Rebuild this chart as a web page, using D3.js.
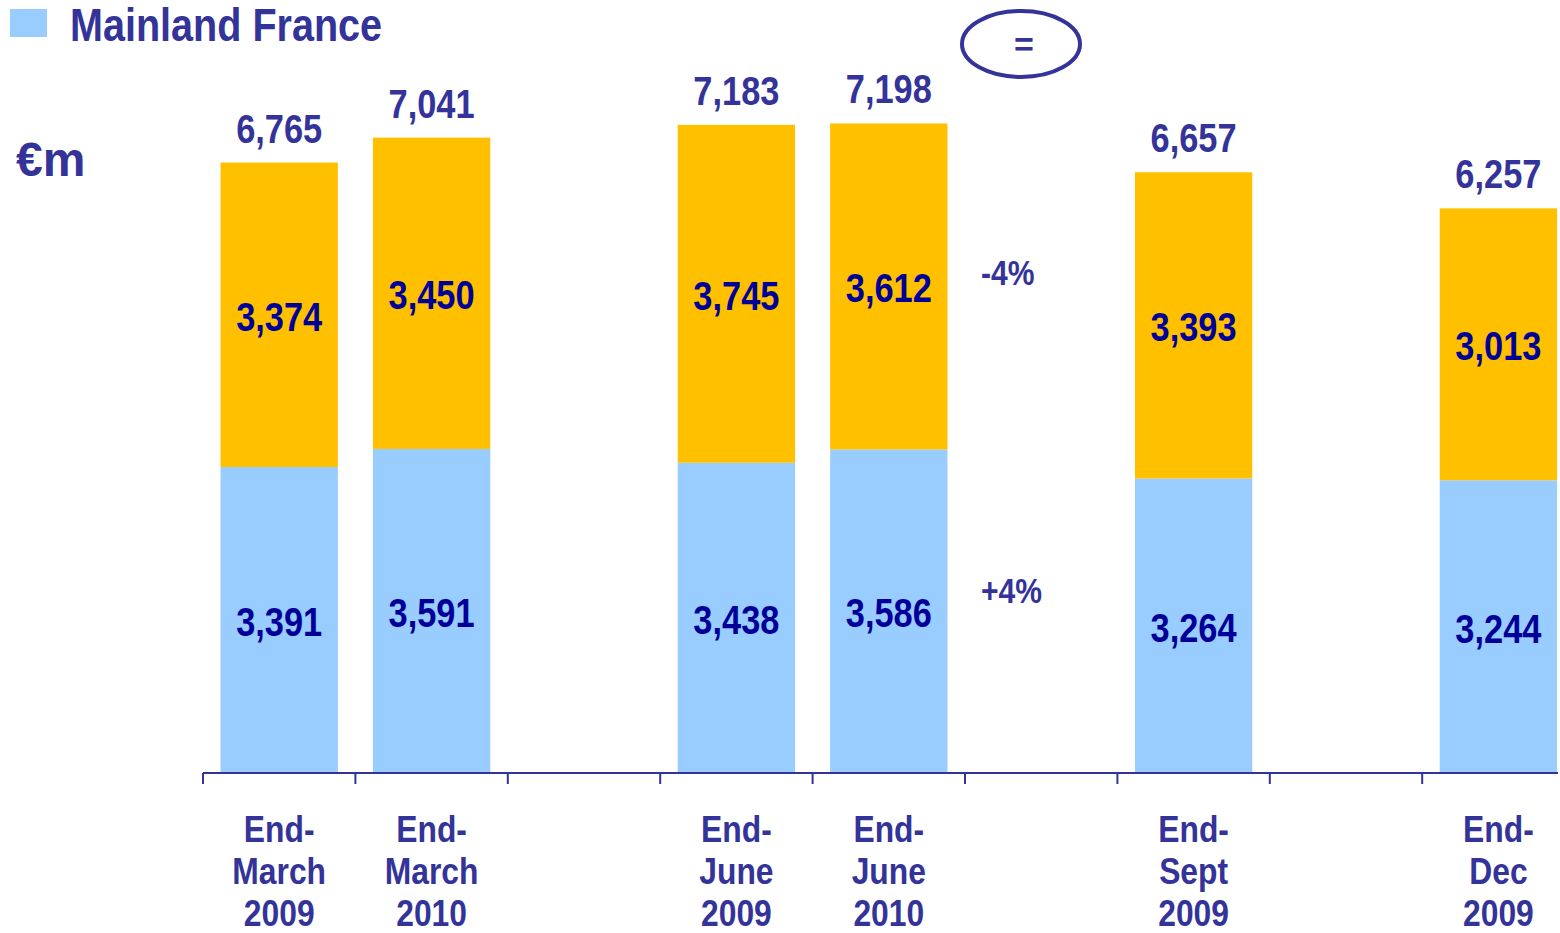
<!DOCTYPE html>
<html>
<head>
<meta charset="utf-8">
<script src="https://cdn.jsdelivr.net/npm/d3@7"></script>
<style>
  body { margin: 0; background: #fff; }
  svg { display: block; font-family: 'Liberation Sans Narrow', 'Arial Narrow', 'Liberation Sans', sans-serif; font-weight: bold; }
</style>
</head>
<body>
<script>
// Data
const slots = ['mar09', 'mar10', 'gap1', 'jun09', 'jun10', 'gap2', 'sep09', 'gap3', 'dec09'];
const periods = ['mar09', 'mar10', 'jun09', 'jun10', 'sep09', 'dec09'];
const periodLabels = [['End-', 'March', '2009'], ['End-', 'March', '2010'], ['End-', 'June', '2009'], ['End-', 'June', '2010'], ['End-', 'Sept', '2009'], ['End-', 'Dec', '2009']];
const mainland = [3391, 3591, 3438, 3586, 3264, 3244];
const other = [3374, 3450, 3745, 3612, 3393, 3013];
const totals = [6765, 7041, 7183, 7198, 6657, 6257];

// Colors
const lightBlue = '#99ccff';
const gold = '#ffc000';
const navy = '#333399';
const darkNavy = '#000099';

const width = 1560;
const height = 933;
const squeeze = 0.86; // no narrow font installed, so squeeze the bold sans

const svg = d3.select('body').append('svg')
  .attr('width', width)
  .attr('height', height);

// move x/y into a transform so the text can be narrowed
function condense(sel) {
  sel.each(function () {
    const t = d3.select(this);
    const tx = +t.attr('x');
    const ty = +t.attr('y');
    t.attr('x', null).attr('y', null)
      .attr('transform', `translate(${tx},${ty}) scale(${squeeze},1)`);
  });
}

// Scales
const x = d3.scaleBand()
  .domain(slots)
  .range([203, 203 + 9 * 152.4])
  .paddingInner(0.23)
  .paddingOuter(0.115);

const y = d3.scaleLinear()
  .domain([0, 8566])
  .range([773, 0]);

const rows = periods.map((p, i) => ({
  key: p,
  label: periodLabels[i],
  mainland: mainland[i],
  other: other[i],
  total: totals[i]
}));

// Bars
const bars = svg.append('g').attr('class', 'bars');
bars.selectAll('rect.mainland')
  .data(rows)
  .join('rect')
  .attr('class', 'mainland')
  .attr('x', d => x(d.key))
  .attr('width', x.bandwidth())
  .attr('y', d => y(d.mainland))
  .attr('height', d => y(0) - y(d.mainland))
  .attr('fill', lightBlue);
bars.selectAll('rect.other')
  .data(rows)
  .join('rect')
  .attr('class', 'other')
  .attr('x', d => x(d.key))
  .attr('width', x.bandwidth())
  .attr('y', d => y(d.mainland + d.other))
  .attr('height', d => y(d.mainland) - y(d.mainland + d.other))
  .attr('fill', gold);

// Value labels
const fmt = d3.format(',');
const labels = svg.append('g')
  .attr('text-anchor', 'middle')
  .attr('font-size', 40);
labels.selectAll('text.mainland')
  .data(rows)
  .join('text')
  .attr('x', d => x(d.key) + x.bandwidth() / 2)
  .attr('y', d => y(d.mainland / 2) + 16)
  .attr('fill', darkNavy)
  .text(d => fmt(d.mainland))
  .call(condense);
labels.selectAll('text.other')
  .data(rows)
  .join('text')
  .attr('x', d => x(d.key) + x.bandwidth() / 2)
  .attr('y', d => y(d.mainland + d.other / 2) + 16)
  .attr('fill', darkNavy)
  .text(d => fmt(d.other))
  .call(condense);
labels.selectAll('text.total')
  .data(rows)
  .join('text')
  .attr('x', d => x(d.key) + x.bandwidth() / 2)
  .attr('y', d => y(d.total) - 20)
  .attr('fill', navy)
  .text(d => fmt(d.total))
  .call(condense);

// Axis
const axis = svg.append('g').attr('stroke', navy).attr('stroke-width', 2);
axis.append('line')
  .attr('x1', x.range()[0]).attr('x2', 1558)
  .attr('y1', y(0)).attr('y2', y(0));
axis.selectAll('line.tick')
  .data(slots)
  .join('line')
  .attr('class', 'tick')
  .attr('x1', d => x(d) - x.step() * 0.115)
  .attr('x2', d => x(d) - x.step() * 0.115)
  .attr('y1', y(0)).attr('y2', y(0) + 11);

// Category labels
svg.append('g')
  .attr('text-anchor', 'middle')
  .attr('font-size', 37)
  .attr('fill', navy)
  .selectAll('text')
  .data(rows)
  .join('text')
  .attr('x', d => x(d.key) + x.bandwidth() / 2)
  .attr('y', 842)
  .call(condense)
  .selectAll('tspan')
  .data(d => d.label)
  .join('tspan')
  .attr('x', 0)
  .attr('dy', (d, i) => i === 0 ? 0 : 42)
  .text(d => d);

// Legend
svg.append('rect')
  .attr('x', 10).attr('y', 9)
  .attr('width', 37).attr('height', 28)
  .attr('fill', lightBlue);
svg.append('text')
  .attr('x', 70).attr('y', 41)
  .attr('font-size', 46)
  .attr('fill', navy)
  .text('Mainland France')
  .call(condense);

svg.append('text')
  .attr('x', 16).attr('y', 176)
  .attr('font-size', 48)
  .attr('fill', navy)
  .text('€m');

// Annotations
svg.append('ellipse')
  .attr('cx', 1021).attr('cy', 44)
  .attr('rx', 59).attr('ry', 33)
  .attr('fill', 'none')
  .attr('stroke', navy)
  .attr('stroke-width', 4);
svg.append('text')
  .attr('x', 1024).attr('y', 56)
  .attr('text-anchor', 'middle')
  .attr('font-size', 34)
  .attr('fill', navy)
  .text('=');
svg.append('text')
  .attr('x', 981).attr('y', 285)
  .attr('font-size', 35)
  .attr('fill', navy)
  .text('-4%')
  .call(condense);
svg.append('text')
  .attr('x', 981).attr('y', 603)
  .attr('font-size', 35)
  .attr('fill', navy)
  .text('+4%')
  .call(condense);
</script>
</body>
</html>
